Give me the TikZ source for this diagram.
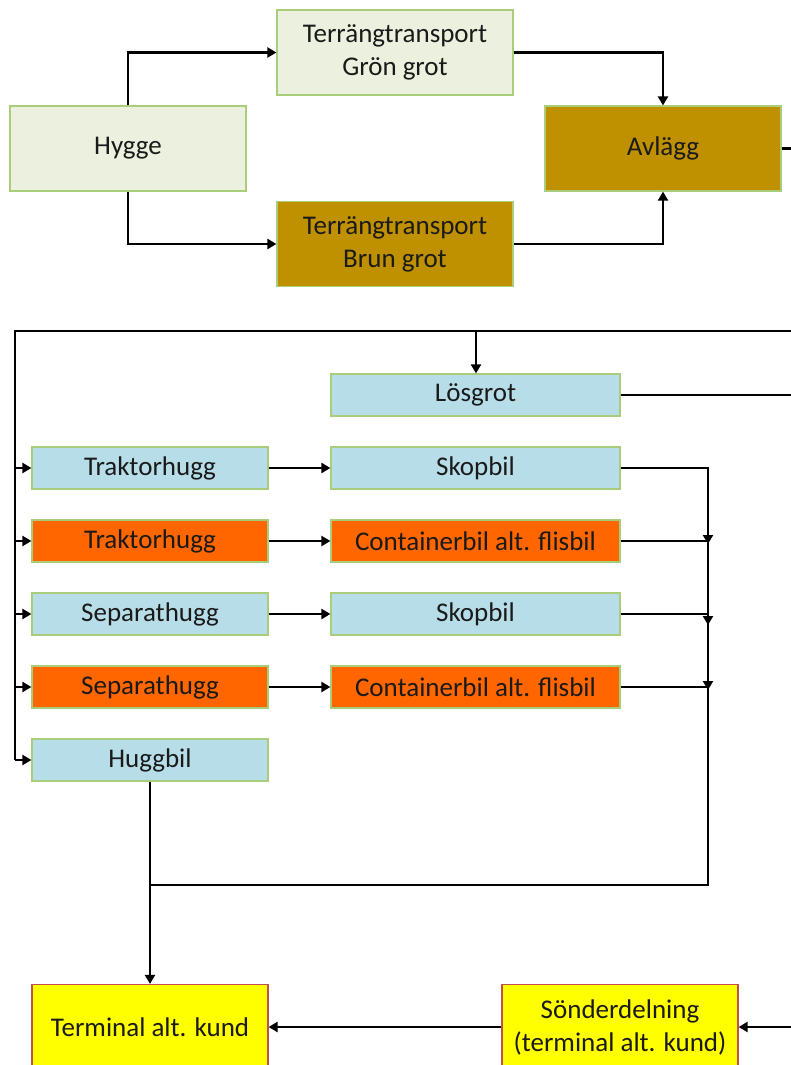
\documentclass[tikz,border=0pt]{standalone}
\usepackage{fontspec}
\setmainfont{Carlito}
\usetikzlibrary{arrows.meta}
\definecolor{lgreen}{HTML}{EBF1DE}
\definecolor{gborder}{HTML}{A9CD7A}
\definecolor{brown}{HTML}{BF9000}
\definecolor{lblue}{HTML}{B7DEE8}
\definecolor{orng}{HTML}{FF6600}
\definecolor{ylw}{HTML}{FFFF00}
\definecolor{yborder}{HTML}{C0504D}
\definecolor{txt}{HTML}{1A1A1A}
\tikzset{
  box/.style={draw=gborder, line width=1.2pt, inner sep=0pt, align=center,
    text=txt, font=\fontsize{27}{33}\selectfont},
  bigbox/.style={box, minimum width=236pt, minimum height=85pt},
  rowbox/.style={box, minimum width=236pt, minimum height=42pt},
  widebox/.style={box, minimum width=289pt, minimum height=42pt},
  conn/.style={line width=2.2pt, black},
  arr/.style={conn, -{Triangle[length=9pt,width=10pt]}},
}
\begin{document}
\begin{tikzpicture}[x=1pt,y=-1pt]
\useasboundingbox (0,0) rectangle (790,1065);
% top part
\node[bigbox, fill=lgreen] (hygge) at (128,148.5) {Hygge};
\node[bigbox, fill=lgreen] (gron) at (395,52.5) {Terrängtransport\\Grön grot};
\node[bigbox, fill=brown] (brun) at (395,244) {Terrängtransport\\Brun grot};
\node[bigbox, fill=brown] (avl) at (663,148.5) {Avlägg};
\coordinate (avlout) at (800,148.5);
\draw[arr] (hygge.north) |- (gron.west);
\draw[arr] (hygge.south) |- (brun.west);
\draw[arr] (gron.east) -| (avl.north);
\draw[arr] (brun.east) -| (avl.south);
\draw[conn] (avl.east) -- (avlout);

% lower part
\node[widebox, fill=lblue] (los) at (475.5,395) {Lösgrot};
\node[rowbox, fill=lblue] (t1) at (150,468) {Traktorhugg};
\node[rowbox, fill=orng] (t2) at (150,541) {Traktorhugg};
\node[rowbox, fill=lblue] (s1) at (150,614) {Separathugg};
\node[rowbox, fill=orng] (s2) at (150,687) {Separathugg};
\node[rowbox, fill=lblue] (hb) at (150,760) {Huggbil};
\node[widebox, fill=lblue] (k1) at (475.5,468) {Skopbil};
\node[widebox, fill=orng] (c1) at (475.5,541) {Containerbil alt. flisbil};
\node[widebox, fill=lblue] (k2) at (475.5,614) {Skopbil};
\node[widebox, fill=orng] (c2) at (475.5,687) {Containerbil alt. flisbil};
\node[bigbox, fill=ylw, draw=yborder] (term) at (150,1027) {Terminal alt. kund};
\node[bigbox, fill=ylw, draw=yborder] (sond) at (620,1027) {Sönderdelning\\(terminal alt. kund)};

\coordinate (tl) at (15,331);
\coordinate (tr) at (800,331);
\coordinate (tm) at (476,331);
\coordinate (losout) at (800,395);
\coordinate (cb) at (708,885);
\coordinate (hj) at (150,885);
\coordinate (sin) at (800,1027);

\draw[conn] (tr) -- (tl) -- (tl |- hb.west);
\draw[arr] (tm) -- (tm |- los.north);
\draw[conn] (los.east) -- (losout);
\foreach \n in {t1,t2,s1,s2,hb} \draw[arr] (tl |- \n.west) -- (\n.west);
\draw[arr] (t1.east) -- (k1.west);
\draw[arr] (t2.east) -- (c1.west);
\draw[arr] (s1.east) -- (k2.west);
\draw[arr] (s2.east) -- (c2.west);
\draw[conn] (k1.east) -| (cb) -- (hj);
\draw[arr] (c1.east) -| ([yshift=-3pt]c1.east -| cb);
\draw[arr] (k2.east) -| ([yshift=-11pt]k2.east -| cb);
\draw[arr] (c2.east) -| ([yshift=-3pt]c2.east -| cb);
\draw[arr] (hb.south) -- (term.north);
\draw[arr] (sond.west) -- (term.east);
\draw[arr] (sin) -- (sond.east);
\end{tikzpicture}
\end{document}
